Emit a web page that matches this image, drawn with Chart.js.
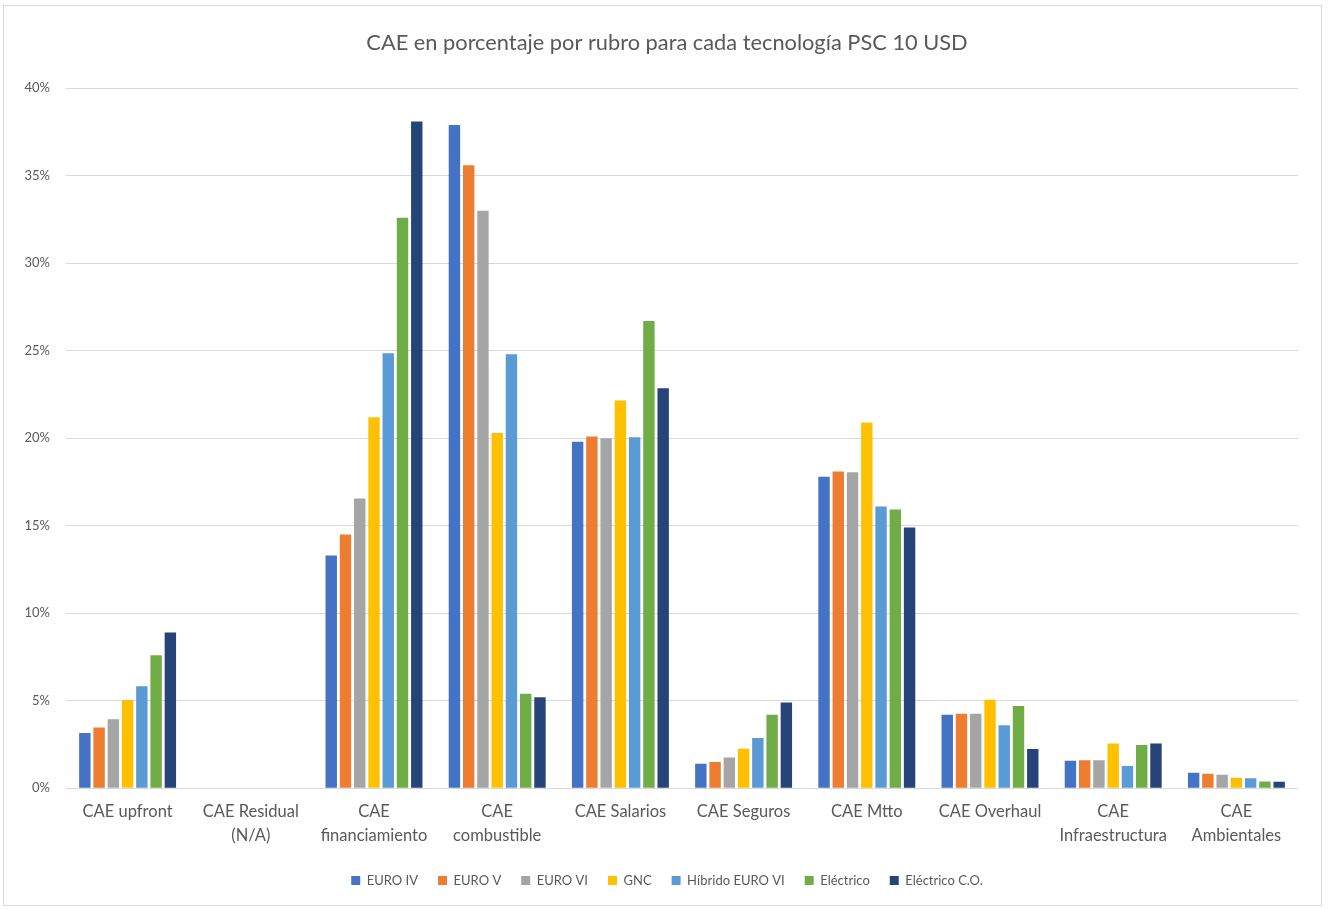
<!DOCTYPE html>
<html>
<head>
<meta charset="utf-8">
<script src="https://cdn.jsdelivr.net/npm/chart.js@4.4.0/dist/chart.umd.min.js"></script>
<style>
  html, body { margin: 0; padding: 0; background: #fff; }
  #frame { position: absolute; left: 3px; top: 5px; width: 1319px; height: 901px; border: 1px solid #d9d9d9; box-sizing: border-box; }
  #wrap { position: absolute; left: 0; top: 0; width: 1328px; height: 909px; }
</style>
</head>
<body>
<div id="frame"></div>
<div id="wrap"><canvas id="chart" width="1328" height="909"></canvas></div>
<script>
// Categorías (rubros)
const categorias = [
  'CAE upfront', ['CAE Residual', '(N/A)'], ['CAE', 'financiamiento'], ['CAE', 'combustible'],
  'CAE Salarios', 'CAE Seguros', 'CAE Mtto', 'CAE Overhaul', ['CAE', 'Infraestructura'], ['CAE', 'Ambientales']
];

// Valores en porcentaje por tecnología
const euroIV    = [3.15, 0, 13.3, 37.9, 19.8, 1.4, 17.8, 4.2, 1.57, 0.88];
const euroV     = [3.47, 0, 14.5, 35.6, 20.1, 1.5, 18.1, 4.25, 1.6, 0.82];
const euroVI    = [3.94, 0, 16.55, 33.0, 20.0, 1.75, 18.05, 4.25, 1.6, 0.77];
const gnc       = [5.03, 0, 21.2, 20.3, 22.15, 2.25, 20.9, 5.05, 2.55, 0.6];
const hibrido   = [5.82, 0, 24.85, 24.8, 20.05, 2.87, 16.1, 3.6, 1.27, 0.57];
const electrico = [7.6, 0, 32.6, 5.4, 26.7, 4.2, 15.92, 4.7, 2.47, 0.38];
const electricoCO = [8.9, 0, 38.1, 5.2, 22.85, 4.9, 14.9, 2.23, 2.55, 0.36];

const yTicks = [0, 5, 10, 15, 20, 25, 30, 35, 40];

const gris = '#595959';
const fuente = 'Lato, "Open Sans", sans-serif';

function serie(label, data, color) {
  return { label: label, data: data, backgroundColor: color, borderWidth: 0 };
}

// Evita que las etiquetas del eje Y se recorten (el eje es angosto por el padding izquierdo)
const sinRecorte = {
  id: 'sinRecorte',
  afterLayout(chart) { chart.scales.y.left = 0; }
};

const ctx = document.getElementById('chart').getContext('2d');
const chart = new Chart(ctx, {
  type: 'bar',
  data: {
    labels: categorias,
    datasets: [
      serie('EURO IV', euroIV, '#4472C4'),
      serie('EURO V', euroV, '#ED7D31'),
      serie('EURO VI', euroVI, '#A5A5A5'),
      serie('GNC', gnc, '#FFC000'),
      serie('Híbrido EURO VI', hibrido, '#5B9BD5'),
      serie('Eléctrico', electrico, '#70AD47'),
      serie('Eléctrico C.O.', electricoCO, '#264478')
    ]
  },
  plugins: [sinRecorte],
  options: {
    responsive: false,
    animation: false,
    // padding izquierdo para centrar título y leyenda como en el original
    layout: { padding: { top: 10, right: 30, bottom: 12, left: 36 } },
    datasets: { bar: { categoryPercentage: 0.81, barPercentage: 0.8 } },
    plugins: {
      title: {
        display: true,
        text: 'CAE en porcentaje por rubro para cada tecnología PSC 10 USD',
        color: gris,
        font: { family: fuente, size: 21.8, weight: 'normal' },
        padding: { top: 20, bottom: 32 }
      },
      legend: {
        position: 'bottom',
        labels: {
          color: gris,
          font: { family: fuente, size: 13 },
          boxWidth: 9,
          boxHeight: 9,
          padding: 20
        }
      },
      tooltip: { enabled: false }
    },
    scales: {
      x: {
        grid: { display: false, drawTicks: false },
        border: { display: false },
        afterFit: function (scale) { scale.height = scale.height - 5; },
        ticks: {
          color: gris,
          font: { family: fuente, size: 16.5, lineHeight: 1.42 },
          padding: 12, maxRotation: 0, autoSkip: false
        }
      },
      y: {
        min: 0,
        max: 40,
        afterBuildTicks: function (scale) {
          scale.ticks = yTicks.map(v => ({ value: v }));
        },
        afterFit: function (scale) { scale.width = 30; },
        grid: { color: '#d9d9d9', lineWidth: 1, drawTicks: false },
        border: { display: false },
        ticks: {
          color: gris,
          font: { family: fuente, size: 13 },
          padding: 16,
          callback: v => v + '%'
        }
      }
    }
  }
});
</script>
</body>
</html>
